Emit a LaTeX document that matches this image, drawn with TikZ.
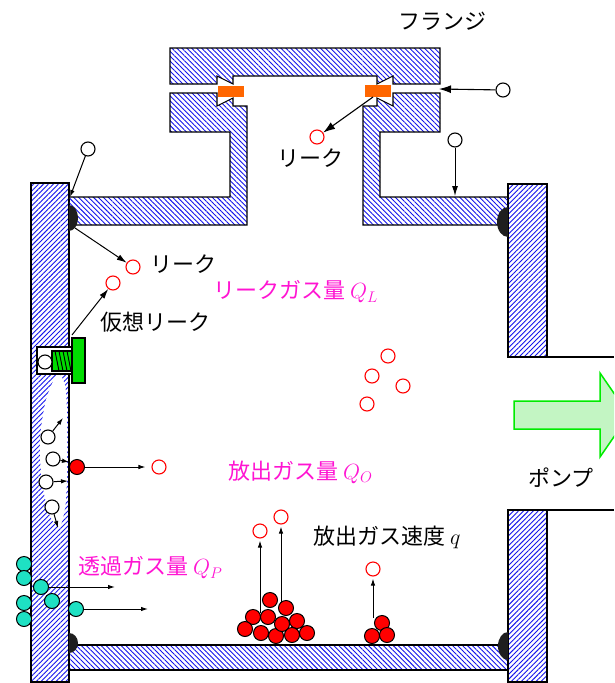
\RequirePackage{fix-cm}
\documentclass[tikz,border=0pt]{standalone}
\usepackage{fontspec}
\newfontfamily\jp{Noto Sans CJK JP}
\usetikzlibrary{patterns.meta,arrows.meta}

\definecolor{hatch}{RGB}{20,20,235}
\definecolor{labelpink}{RGB}{255,20,210}
\definecolor{gasket}{RGB}{255,102,0}
\definecolor{permgas}{RGB}{30,225,195}
\definecolor{screwgreen}{RGB}{0,220,0}
\definecolor{pumpedge}{RGB}{0,235,0}
\definecolor{pumpfill}{RGB}{195,245,195}
\definecolor{weld}{RGB}{30,30,30}

\tikzset{
  wallR/.style={draw=black,line width=1.1pt,
    pattern={Lines[angle=45,distance=3.5pt,line width=0.9pt]},pattern color=hatch},
  wallL/.style={draw=black,line width=1.1pt,
    pattern={Lines[angle=-45,distance=3.5pt,line width=0.9pt]},pattern color=hatch},
  gasopen/.style={circle,draw=black,fill=white,line width=1.1pt,minimum size=14pt,inner sep=0pt},
  gasred/.style={circle,draw=red,fill=white,line width=1.1pt,minimum size=14pt,inner sep=0pt},
  gasdot/.style={circle,draw=black,fill=red,line width=1pt,minimum size=15pt,inner sep=0pt},
  gasperm/.style={circle,draw=black,fill=permgas,line width=1pt,minimum size=15pt,inner sep=0pt},
  bigarrow/.style={-{Latex[length=12pt,width=8pt]},line width=1.1pt},
  midarrow/.style={-{Latex[length=10pt,width=6pt]},line width=1pt},
  smallarrow/.style={-{Latex[length=7pt,width=4.5pt]},line width=1pt},
  jtext/.style={inner sep=0pt,anchor=west,font=\jp\fontsize{22}{26}\selectfont},
  pinktext/.style={jtext,text=labelpink},
  outline/.style={draw=black,line width=1.1pt},
}

\begin{document}
\begin{tikzpicture}[x=1pt,y=-1pt]
\useasboundingbox (0,0) rectangle (614,683);
\begin{scope}
\clip (0,0) rectangle (614,683);

% ---- chamber walls ----
\draw[wallR] (31,183) rectangle (69,682);
\draw[wallR] (508,184) rectangle (547,357);
\draw[wallR] (508,510) rectangle (547,682);
\draw[wallL] (69,645) rectangle (508,670);
\draw[outline] (547,357) -- (614,357);
\draw[outline] (547,510) -- (614,510);

% ---- flange: upper plate with knife edges ----
\draw[wallL] (170,48) -- (440,48) -- (440,84) -- (393,84) -- (393,76) -- (377,84)
  -- (377,76) -- (233,76) -- (233,84) -- (217,76) -- (217,84) -- (170,84) -- cycle;
% lower plates, tubes and top walls
\draw[wallL] (69,197) -- (230,197) -- (230,132) -- (170,132) -- (170,93) -- (217,93)
  -- (217,106) -- (233,98) -- (233,106) -- (247,106) -- (247,225) -- (69,225) -- cycle;
\draw[wallL] (508,197) -- (380,197) -- (380,132) -- (440,132) -- (440,93) -- (393,93)
  -- (393,106) -- (377,98) -- (377,106) -- (363,106) -- (363,225) -- (508,225) -- cycle;
% gaskets
\fill[gasket] (218,86) rectangle (244,97);
\fill[gasket] (365,85) rectangle (391,97);

% ---- weld beads ----
\fill[weld] (69,205) arc[start angle=-90,end angle=90,x radius=9,y radius=13] -- cycle;
\fill[weld] (508,207) arc[start angle=-90,end angle=-270,x radius=11,y radius=15] -- cycle;
\fill[weld] (69,633) arc[start angle=-90,end angle=90,x radius=9,y radius=10] -- cycle;
\fill[weld] (508,632) arc[start angle=-90,end angle=-270,x radius=10,y radius=14] -- cycle;

% ---- gas pocket inside the left wall ----
\fill[white] plot[smooth cycle] coordinates {(58,374) (66,392) (67,450) (66,500) (60,526) (50,516) (42,482) (40,440) (46,400)};

% ---- virtual leak: screw in a blind hole ----
\draw[outline,fill=white] (37,347) rectangle (72,374);
\draw[outline,fill=screwgreen] (52,351) rectangle (72,371);
\foreach \t in {55,59,63,67}
  \draw[line width=0.9pt] (\t,351) -- (\t+4,371);
\draw[outline,fill=screwgreen] (72,338) rectangle (85,383);
\node[gasopen] (vgas) at (45,362) {};

% ---- labels ----
\node[jtext] (tflange) at (398,21) {フランジ};
\node[jtext] (tleakf) at (277,158) {リーク};
\node[jtext] (tleakw) at (150,264) {リーク};
\node[jtext] (tvirt) at (100,322) {仮想リーク};
\node[pinktext] (tql) at (213,292) {リークガス量 $Q_L$};
\node[pinktext] (tqo) at (228,472) {放出ガス量 $Q_O$};
\node[jtext] (tpump) at (528,478) {ポンプ};
\node[jtext] (tq) at (313,537) {放出ガス速度 $q$};
\node[pinktext] (tqp) at (78,568) {透過ガス量 $Q_P$};

% ---- leak through the flange ----
\node[gasopen] (fout) at (503,90) {};
\coordinate (fgap) at (439,89);
\draw[bigarrow] (fout) -- (fgap);
\coordinate (fseal) at (373,97);
\node[gasred] (fin) at (317,137) {};
\draw[bigarrow] (fseal) -- (fin);

% ---- gas hitting the top wall ----
\node[gasopen] (topgas) at (455,140) {};
\coordinate (topwall) at (455,196);
\draw[midarrow] (topgas) -- (topwall);

% ---- leak through the weld ----
\node[gasopen] (wout) at (88,149) {};
\coordinate (wcorner) at (70,197);
\draw[smallarrow] (wout) -- (wcorner);
\coordinate (wbead) at (75,228);
\node[gasred] (win) at (133,267) {};
\draw[midarrow] (wbead) -- (win);

% ---- virtual leak path ----
\coordinate (vexit) at (72,335);
\node[gasred] (vin) at (113,283) {};
\draw[midarrow] (vexit) -- (vin);

% ---- red gas cluster ----
\node[gasred] (c1) at (388,356) {};
\node[gasred] (c2) at (372,376) {};
\node[gasred] (c3) at (403,386) {};
\node[gasred] (c4) at (367,404) {};

% ---- diffusion inside the wall ----
\node[gasopen] (d1) at (48,437) {};
\node[gasopen] (d2) at (53,459) {};
\node[gasopen] (d3) at (46,482) {};
\node[gasopen] (d4) at (52,507) {};
\coordinate (d1e) at (63,418);
\coordinate (d2e) at (69,462);
\coordinate (d3e) at (68,481);
\coordinate (d4e) at (58,528);
\draw[smallarrow] (d1) -- (d1e);
\draw[smallarrow] (d2) -- (d2e);
\draw[smallarrow] (d3) -- (d3e);
\draw[smallarrow] (d4) -- (d4e);
\node[gasdot] (surf) at (77,467) {};
\node[gasred] (surfout) at (159,467) {};
\draw[smallarrow,shorten >=6pt] (surf) -- (surfout);

% ---- permeation ----
\node[gasperm] (pa) at (24,564) {};
\node[gasperm] (pb) at (24,578) {};
\node[gasperm] (pc) at (24,603) {};
\node[gasperm] (pd) at (24,619) {};
\node[gasperm] (pe) at (52,601) {};
\node[gasperm] (pf) at (41,587) {};
\node[gasperm] (pg) at (76,609) {};
\coordinate (pfe) at (115,587);
\coordinate (pge) at (148,609);
\draw[smallarrow] (pf) -- (pfe);
\draw[smallarrow] (pg) -- (pge);

% ---- outgassing from deposits on the floor ----
\coordinate (s1) at (260,613);
\coordinate (s2) at (281,603);
\coordinate (s3) at (373,618);
\node[gasred] (o1) at (260,531) {};
\node[gasred] (o2) at (281,517) {};
\node[gasred] (o3) at (373,569) {};
\draw[smallarrow,shorten >=2pt] (s1) -- (o1);
\draw[smallarrow,shorten >=2pt] (s2) -- (o2);
\draw[smallarrow,shorten >=2pt] (s3) -- (o3);
\foreach \n/\p in {a/{270,600},b/{253,617},c/{268,617},d/{245,629},e/{261,633},f/{276,636},
                   g/{282,624},h/{286,608},i/{297,621},j/{292,635},k/{307,633},
                   l/{382,623},m/{372,636},n/{387,635}}
  \node[gasdot] (dep\n) at (\p) {};

% ---- pump arrow ----
\draw[draw=pumpedge,line width=1.5pt,fill=pumpfill]
  (514,401) -- (600,401) -- (600,373) -- (629,415) -- (600,457) -- (600,429) -- (514,429) -- cycle;

\end{scope}
\end{tikzpicture}
\end{document}
